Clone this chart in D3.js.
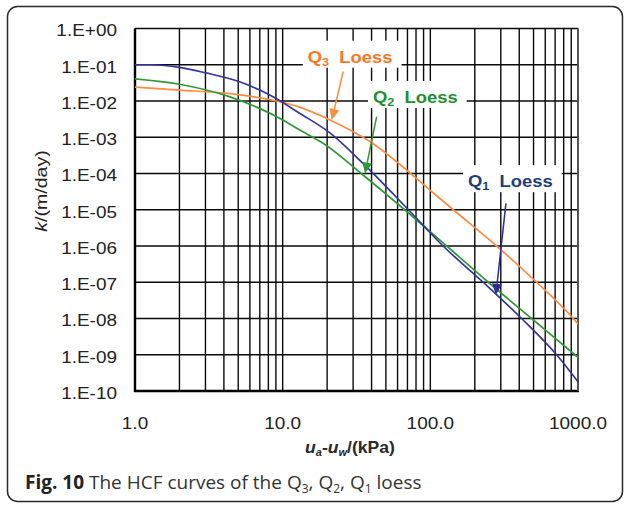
<!DOCTYPE html>
<html><head><meta charset="utf-8">
<script src="https://cdn.jsdelivr.net/npm/d3@7"></script>
<style>html,body{margin:0;padding:0;background:#fff;}svg{display:block;}</style>
</head><body>
<script>
// ---------- data ----------
const suctionQ1 = [1, 1.3, 2, 3, 5, 7, 8.6, 13, 21, 35, 71, 122, 228, 415, 716, 1000];
const kQ1       = [1.0e-1, 1.0e-1, 8.5e-2, 6.0e-2, 3.5e-2, 2.0e-2, 1.3e-2, 4.6e-3, 1.3e-3, 1.9e-4, 1.0e-5, 1.0e-6, 1.0e-7, 1.0e-8, 1.0e-9, 1.8e-10];
const suctionQ2 = [1, 2, 4.4, 7.4, 9.6, 13, 18.8, 35, 67, 129, 247, 485, 953, 1000];
const kQ2       = [4.1e-2, 2.9e-2, 1.3e-2, 5.6e-3, 3.3e-3, 1.6e-3, 6.8e-4, 9.1e-5, 1.0e-5, 1.0e-6, 1.0e-7, 1.0e-8, 1.0e-9, 8.5e-10];
const suctionQ3 = [1, 2, 4.4, 9.1, 13, 20.9, 39, 62, 100, 143, 281, 525, 929, 1000];
const kQ3       = [2.4e-2, 2.0e-2, 1.6e-2, 1.0e-2, 6.8e-3, 3.0e-3, 7.6e-4, 1.8e-4, 3.4e-5, 1.0e-5, 1.0e-6, 1.0e-7, 1.0e-8, 7.1e-9];

const xTickValues = [1, 10, 100, 1000];
const xTickLabels = ["1.0", "10.0", "100.0", "1000.0"];
const yTickValues = [1e0, 1e-1, 1e-2, 1e-3, 1e-4, 1e-5, 1e-6, 1e-7, 1e-8, 1e-9, 1e-10];
const yTickLabels = ["1.E+00", "1.E-01", "1.E-02", "1.E-03", "1.E-04", "1.E-05", "1.E-06", "1.E-07", "1.E-08", "1.E-09", "1.E-10"];

// annotation labels: name, subscript, label anchor (s,k), arrow start (s,k), arrow tip (s,k)
const annoNames = ["Q3", "Q2", "Q1"];
const annoSub   = ["3", "2", "1"];
const annoLabelS = [14.8, 40.9, 180];
const annoLabelK = [0.114, 8.8e-3, 4.2e-5];
const annoFromS  = [25.7, 43.3, 325];
const annoFromK  = [0.065, 3.7e-3, 1.5e-5];
const annoToS    = [21.5, 36.1, 278];
const annoToK    = [3.0e-3, 1.0e-4, 4.5e-8];

// ---------- layout / style ----------
const W = 625, H = 505;
const plot = {left: 135, right: 578, top: 28.5, bottom: 391};
const SX = 1.15; // horizontal stretch of the glyphs in the figure
const lineColors = {Q1: "#34349c", Q2: "#2f9a35", Q3: "#ff8c3f"};
const textColors = {Q1: "#1f3d7a", Q2: "#23912b", Q3: "#ff7424"};

const svg = d3.select("body").append("svg").attr("width", W).attr("height", H);
svg.append("rect").attr("width", W).attr("height", H).attr("fill", "#fff");

// outer frame
svg.append("rect").attr("x", 7.5).attr("y", 6.5).attr("width", 615).attr("height", 495)
  .attr("rx", 10).attr("fill", "none").attr("stroke", "#2a2a2a").attr("stroke-width", 1.5);

const x = d3.scaleLog().domain([1, 1000]).range([plot.left, plot.right]);
const y = d3.scaleLog().domain([1e0, 1e-10]).range([plot.top, plot.bottom]);

const g = svg.append("g");

// grid: verticals at 1..9 x each decade
const xGrid = [];
[1, 10, 100].forEach(d => { for (let m = 1; m <= 9; m++) xGrid.push(d * m); });
xGrid.push(1000);
g.selectAll("line.vg").data(xGrid).join("line").attr("class", "vg")
  .attr("x1", d => x(d)).attr("x2", d => x(d))
  .attr("y1", plot.top).attr("y2", plot.bottom)
  .attr("stroke", "#0a0a0a").attr("stroke-width", 1.4);
g.selectAll("line.hg").data(yTickValues).join("line").attr("class", "hg")
  .attr("x1", plot.left).attr("x2", plot.right)
  .attr("y1", d => y(d)).attr("y2", d => y(d))
  .attr("stroke", "#0a0a0a").attr("stroke-width", 1.4);

// heavier left & bottom axis lines
g.append("line").attr("x1", plot.left).attr("x2", plot.left).attr("y1", plot.top).attr("y2", plot.bottom + 1)
  .attr("stroke", "#000").attr("stroke-width", 2.4);
g.append("line").attr("x1", plot.left - 1).attr("x2", plot.right + 1).attr("y1", plot.bottom).attr("y2", plot.bottom)
  .attr("stroke", "#000").attr("stroke-width", 2.4);
g.append("line").attr("x1", plot.right).attr("x2", plot.right).attr("y1", plot.top).attr("y2", plot.bottom)
  .attr("stroke", "#555").attr("stroke-width", 1.6);

// stretched text helper
function sText(parent, px, py, str, anchor, size, opts = {}) {
  const gg = parent.append("g").attr("transform", `translate(${px},${py}) scale(${SX},1)`);
  const t = gg.append("text").attr("text-anchor", anchor)
    .attr("font-family", opts.family || "'Liberation Sans', Arial, sans-serif")
    .attr("font-size", size).attr("font-weight", opts.weight || "normal")
    .attr("fill", opts.fill || "#222").text(str);
  return {g: gg, t};
}

// y tick labels
yTickValues.forEach((v, i) => sText(svg, 117, y(v) + 7.8, yTickLabels[i], "end", 16.5));
// x tick labels
xTickValues.forEach((v, i) => sText(svg, x(v), 428.5, xTickLabels[i], "middle", 16.5));

// axis titles
{
  const gt = svg.append("g").attr("transform", `translate(${350},${453}) scale(1.1,1)`);
  const t = gt.append("text").attr("text-anchor", "middle")
    .attr("font-family", "'Liberation Sans', Arial, sans-serif").attr("font-size", 16)
    .attr("font-weight", "bold").attr("fill", "#2a2a2a");
  t.append("tspan").attr("font-style", "italic").text("u");
  t.append("tspan").attr("font-style", "italic").attr("font-size", 10).attr("dy", 3).text("a");
  t.append("tspan").attr("dy", -3).text("-");
  t.append("tspan").attr("font-style", "italic").text("u");
  t.append("tspan").attr("font-style", "italic").attr("font-size", 10).attr("dy", 3).text("w");
  t.append("tspan").attr("dy", -3).text("/(kPa)");
}
{
  const gt = svg.append("g").attr("transform", `translate(${47},${191}) rotate(-90) scale(${SX},1)`);
  const t = gt.append("text").attr("text-anchor", "middle")
    .attr("font-family", "'Liberation Sans', Arial, sans-serif").attr("font-size", 17)
    .attr("fill", "#222");
  t.append("tspan").attr("font-style", "italic").text("k");
  t.append("tspan").text("/(m/day)");
}

// label boxes + labels (white boxes interrupt grid)
const annoG = svg.append("g");
annoNames.forEach((name, i) => {
  const px = x(annoLabelS[i]), py = y(annoLabelK[i]);
  const box = annoG.append("rect").attr("fill", "#fff");
  const gt = annoG.append("g").attr("transform", `translate(${px},${py}) scale(${SX},1)`);
  const t = gt.append("text").attr("font-family", "'Liberation Sans', Arial, sans-serif")
    .attr("font-size", 16).attr("font-weight", "bold").attr("fill", textColors[name]);
  t.append("tspan").text("Q");
  t.append("tspan").attr("font-size", 11).attr("dy", 3).text(annoSub[i]);
  t.append("tspan").attr("dy", -3).text("\u00a0 Loess");
  const bb = t.node().getBBox();
  box.attr("x", px + bb.x * SX - 5).attr("width", bb.width * SX + 14)
     .attr("y", py - 22).attr("height", 27);
});

// curves
const line = d3.line().x(d => x(d[0])).y(d => y(d[1])).curve(d3.curveMonotoneX);
const series = [
  {name: "Q3", s: suctionQ3, k: kQ3},
  {name: "Q2", s: suctionQ2, k: kQ2},
  {name: "Q1", s: suctionQ1, k: kQ1}
];
svg.append("g").selectAll("path").data(series).join("path")
  .attr("d", d => line(d.s.map((s, i) => [s, d.k[i]])))
  .attr("fill", "none").attr("stroke", d => lineColors[d.name]).attr("stroke-width", 1.7)
  .attr("stroke-linejoin", "round");

// arrows
annoNames.forEach((name, i) => {
  const x1 = x(annoFromS[i]), y1 = y(annoFromK[i]);
  const x2 = x(annoToS[i]), y2 = y(annoToK[i]);
  const ang = Math.atan2(y2 - y1, x2 - x1);
  const L = 11, hw = 5;
  const bx = x2 - L * Math.cos(ang), by = y2 - L * Math.sin(ang);
  const col = name === "Q1" ? "#2b2b9c" : lineColors[name];
  svg.append("line").attr("x1", x1).attr("y1", y1).attr("x2", bx).attr("y2", by)
    .attr("stroke", col).attr("stroke-width", 1.5);
  svg.append("path").attr("d", `M${x2},${y2}L${bx + hw * Math.sin(ang)},${by - hw * Math.cos(ang)}L${bx - hw * Math.sin(ang)},${by + hw * Math.cos(ang)}Z`)
    .attr("fill", col);
});

// caption
{
  const t = svg.append("text").attr("x", 25).attr("y", 489)
    .attr("font-family", "'Open Sans', sans-serif").attr("font-size", 19).attr("fill", "#333");
  t.append("tspan").attr("font-weight", "bold").attr("fill", "#222").text("Fig. 10");
  t.append("tspan").text(" The HCF curves of the Q");
  t.append("tspan").attr("font-size", 12).attr("dy", 4).text("3");
  t.append("tspan").attr("dy", -4).text(", Q");
  t.append("tspan").attr("font-size", 12).attr("dy", 4).text("2");
  t.append("tspan").attr("dy", -4).text(", Q");
  t.append("tspan").attr("font-size", 12).attr("dy", 4).text("1");
  t.append("tspan").attr("dy", -4).text(" loess");
}
</script>
</body></html>
